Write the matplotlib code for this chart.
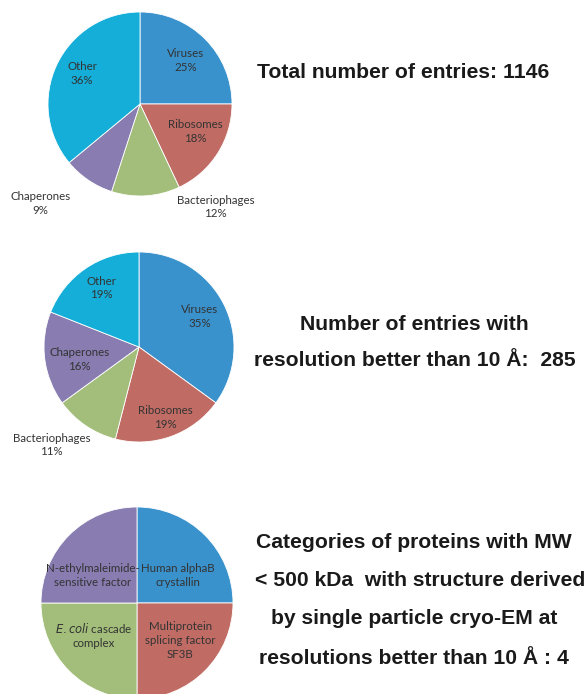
import matplotlib.pyplot as plt

W, H = 584, 694

blue = '#3A92CC'
red = '#C06C64'
green = '#A2BE7A'
purple = '#887CB0'
cyan = '#14AED8'

# pie 1: all entries
labels1 = ['Viruses', 'Ribosomes', 'Bacteriophages', 'Chaperones', 'Other']
values1 = [25, 18, 12, 9, 36]
colors1 = [blue, red, green, purple, cyan]

# pie 2: resolution better than 10 A
labels2 = ['Viruses', 'Ribosomes', 'Bacteriophages', 'Chaperones', 'Other']
values2 = [35, 19, 11, 16, 19]
colors2 = [blue, red, green, purple, cyan]

# pie 3: MW < 500 kDa
labels3 = ['Human alphaB\ncrystallin', 'Multiprotein\nsplicing factor\nSF3B',
           '$\\it{E. coli}$ cascade\ncomplex', 'N-ethylmaleimide-\nsensitive factor']
values3 = [1, 1, 1, 1]
colors3 = [blue, red, green, purple]

label_font = dict(family=['Lato', 'DejaVu Sans'], fontsize=8.3, color='#333333',
                  ha='center', va='center', linespacing=1.3)
title_font = dict(family=['Liberation Sans', 'DejaVu Sans'], fontsize=15.2,
                  fontweight='bold', color='#1a1a1a', ha='center', va='center')

fig = plt.figure(figsize=(W / 100, H / 100), dpi=100)


def pie_axes(cx, cy, r):
    ax = fig.add_axes([(cx - r) / W, (H - cy - r) / H, 2 * r / W, 2 * r / H])
    ax.set_xlim(-1, 1)
    ax.set_ylim(-1, 1)
    ax.axis('off')
    return ax


def draw_pie(ax, values, colors, texts, pos):
    ax.pie(values, colors=colors, startangle=90, counterclock=False, radius=1,
           wedgeprops=dict(edgecolor='white', linewidth=0.6))
    ax.set_xlim(-1, 1)
    ax.set_ylim(-1, 1)
    for t, (x, y) in zip(texts, pos):
        ax.text(x, y, t, **label_font)


ax1 = pie_axes(140, 104, 92)
pct1 = [f'{l}\n{v}%' for l, v in zip(labels1, values1)]
draw_pie(ax1, values1, colors1, pct1,
         [(0.50, 0.47), (0.60, -0.30), (0.82, -1.12), (-1.08, -1.08), (-0.63, 0.33)])

ax2 = pie_axes(139, 347, 95)
pct2 = [f'{l}\n{v}%' for l, v in zip(labels2, values2)]
draw_pie(ax2, values2, colors2, pct2,
         [(0.64, 0.32), (0.28, -0.74), (-0.92, -1.03), (-0.63, -0.13), (-0.40, 0.62)])

ax3 = pie_axes(137, 603, 96)
draw_pie(ax3, values3, colors3, labels3,
         [(0.43, 0.29), (0.45, -0.39), (-0.45, -0.33), (-0.46, 0.29)])

fig.text(403 / W, 1 - 73 / H, 'Total number of entries: 1146', **title_font)
fig.text(414 / W, 1 - 325 / H, 'Number of entries with', **title_font)
fig.text(415 / W, 1 - 361 / H, 'resolution better than 10 Å:  285', **title_font)
fig.text(414 / W, 1 - 543 / H, 'Categories of proteins with MW', **title_font)
fig.text(420 / W, 1 - 580 / H, '< 500 kDa  with structure derived', **title_font)
fig.text(414 / W, 1 - 618 / H, 'by single particle cryo-EM at', **title_font)
fig.text(414 / W, 1 - 658 / H, 'resolutions better than 10 Å : 4', **title_font)

fig.savefig('out.png', dpi=100)
